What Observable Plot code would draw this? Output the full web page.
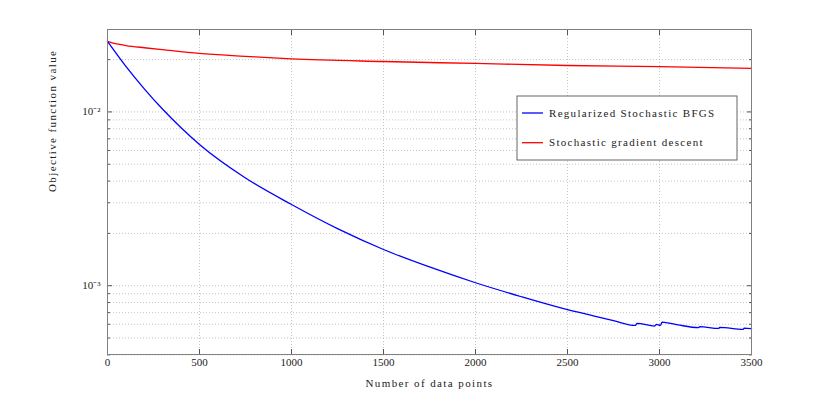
<!DOCTYPE html>
<html>
<head>
<meta charset="utf-8">
<script src="https://cdn.jsdelivr.net/npm/d3@7"></script>
<script src="https://cdn.jsdelivr.net/npm/@observablehq/plot@0.6"></script>
<style>
  body { margin: 0; background: #fff; }
</style>
</head>
<body>
<div id="chart"></div>
<script>
// ---- data ----
const xTicks = [0, 500, 1000, 1500, 2000, 2500, 3000, 3500];
const yMajorTicks = [1e-3, 1e-2];
const yMajorLabels = ["10\u207B\u00B3", "10\u207B\u00B2"];
const yMinorTicks = [4e-4, 5e-4, 6e-4, 7e-4, 8e-4, 9e-4,
  2e-3, 3e-3, 4e-3, 5e-3, 6e-3, 7e-3, 8e-3, 9e-3, 2e-2];
const yDomain = [4.02e-4, 0.0298];
const xDomain = [0, 3500];
const xTitle = "Number of data points";
const yTitle = "Objective function value";

const seriesNames = ["Regularized Stochastic BFGS", "Stochastic gradient descent"];
const seriesColors = ["#0000ff", "#ff0000"];

const bfgsX = [0, 100, 200, 300, 400, 500, 750, 1000, 1250, 1500, 1750, 2000, 2250, 2459, 2640, 2750,
  2869, 2878, 2974, 2983, 3005, 3014, 3100, 3213, 3218, 3322, 3327, 3455, 3460, 3500];
const bfgsY = [0.02547, 0.01829, 0.01358, 0.01035, 0.00810, 0.00649, 0.004164, 0.002932, 0.00213, 0.001616,
  0.001282, 0.001040, 0.000864, 0.000748, 0.000671, 0.000630,
  0.000591, 0.000607, 0.000586, 0.000599, 0.000591, 0.000618, 0.000595, 0.000574, 0.000581,
  0.000568, 0.000576, 0.000561, 0.000570, 0.000566];

const sgdX = [0, 50, 100, 200, 300, 500, 750, 1000, 1500, 2000, 2500, 3000, 3500];
const sgdY = [0.0255, 0.0246, 0.0241, 0.0234, 0.0228, 0.0217, 0.0209, 0.0202, 0.0195, 0.0190, 0.0185, 0.0182, 0.0178];

const bfgs = bfgsX.map((x, i) => ({x, y: bfgsY[i]}));
const sgd = sgdX.map((x, i) => ({x, y: sgdY[i]}));

const gridStyle = {stroke: "#b5b5b5", strokeDasharray: "1,2", strokeWidth: 0.8};
const tickColor = "#555";

const chart = Plot.plot({
  width: 830,
  height: 399,
  marginTop: 29,
  marginLeft: 107,
  marginRight: 79,
  marginBottom: 45,
  style: {fontFamily: "'Liberation Serif', serif", fontSize: "11px", background: "white", color: "#222"},
  x: {type: "linear", domain: xDomain},
  y: {type: "log", domain: yDomain},
  marks: [
    Plot.ruleY([...yMajorTicks, ...yMinorTicks], gridStyle),
    Plot.ruleX(xTicks.slice(1, -1), gridStyle),
    Plot.axisX({ticks: xTicks, anchor: "bottom", tickSize: -5, tickPadding: 9, label: null, stroke: tickColor,
      tickFormat: d => String(d)}),
    Plot.axisX({ticks: xTicks, anchor: "top", tickSize: -5, tickFormat: () => "", label: null, stroke: tickColor}),
    Plot.axisY({ticks: yMajorTicks, anchor: "left", tickSize: -5, tickPadding: 12, label: null, stroke: tickColor,
      tickFormat: d => yMajorLabels[yMajorTicks.indexOf(d)]}),
    Plot.axisY({ticks: yMinorTicks, anchor: "left", tickSize: -3, tickFormat: () => "", label: null, stroke: tickColor}),
    Plot.axisY({ticks: yMajorTicks, anchor: "right", tickSize: -5, tickFormat: () => "", label: null, stroke: tickColor}),
    Plot.axisY({ticks: yMinorTicks, anchor: "right", tickSize: -3, tickFormat: () => "", label: null, stroke: tickColor}),
    Plot.line(sgd, {x: "x", y: "y", stroke: seriesColors[1], strokeWidth: 1.3, curve: "monotone-x"}),
    Plot.line(bfgs, {x: "x", y: "y", stroke: seriesColors[0], strokeWidth: 1.3, curve: "monotone-x"}),
    Plot.frame({stroke: "#808080", strokeWidth: 1}),
    Plot.text([xTitle], {frameAnchor: "bottom", dy: 32, fill: "#222"}),
    Plot.text([yTitle], {frameAnchor: "left", dx: -55, rotate: -90, fill: "#222"})
  ]
});

const svg = d3.select(chart);
svg.selectAll("text")
  .filter(function() { return this.textContent === xTitle || this.textContent === yTitle; })
  .style("letter-spacing", "1.4px");

// legend inside the plot (top-right region)
const lg = svg.append("g").attr("aria-label", "legend")
  .attr("transform", "translate(517,96)");
lg.append("rect").attr("width", 220).attr("height", 64)
  .attr("fill", "white").attr("stroke", "#666").attr("stroke-width", 1);
seriesNames.forEach((name, i) => {
  const yy = 17 + i * 29.7;
  lg.append("line").attr("x1", 5).attr("x2", 26).attr("y1", yy).attr("y2", yy)
    .attr("stroke", seriesColors[i]).attr("stroke-width", 1.3);
  lg.append("text").attr("x", 32).attr("y", yy).attr("dy", "0.32em")
    .attr("text-anchor", "start")
    .attr("fill", "#222").attr("font-size", 11).style("letter-spacing", "1.3px")
    .text(name);
});

document.getElementById("chart").appendChild(chart);
</script>
</body>
</html>
